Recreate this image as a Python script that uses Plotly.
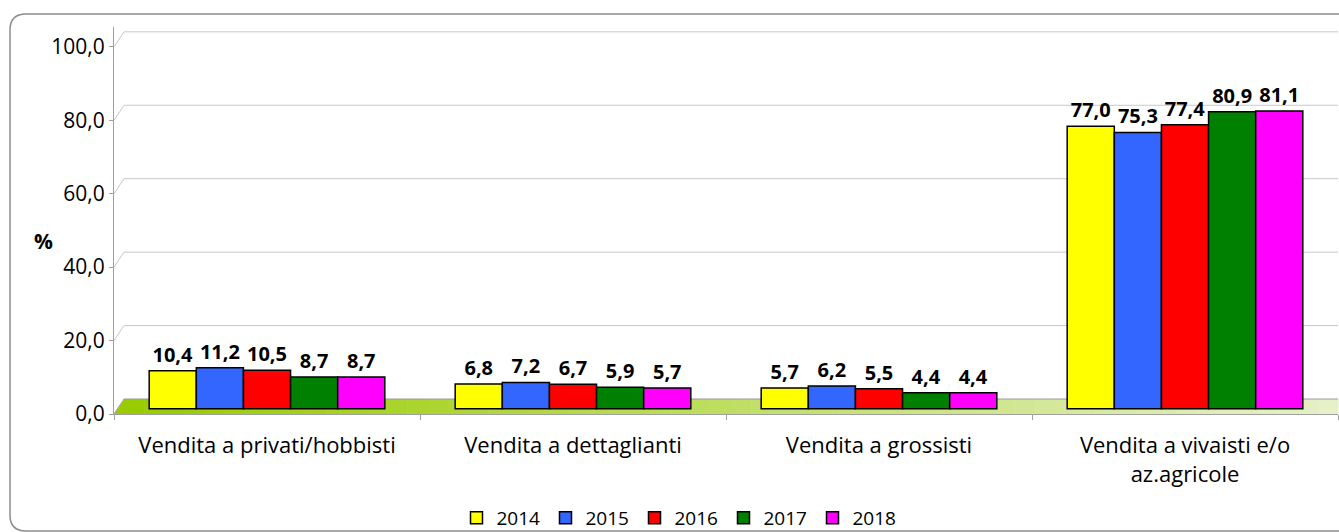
import plotly.graph_objects as go

categories = ["Vendita a privati/hobbisti", "Vendita a dettaglianti",
              "Vendita a grossisti", "Vendita a vivaisti e/o<br>az.agricole"]
years = ["2014", "2015", "2016", "2017", "2018"]
v2014 = [10.4, 6.8, 5.7, 77.0]
v2015 = [11.2, 7.2, 6.2, 75.3]
v2016 = [10.5, 6.7, 5.5, 77.4]
v2017 = [8.7, 5.9, 4.4, 80.9]
v2018 = [8.7, 5.7, 4.4, 81.1]
series = [v2014, v2015, v2016, v2017, v2018]
colors = ["#FFFF00", "#3366FF", "#FF0000", "#008000", "#FF00FF"]
y_ticks = [0, 20, 40, 60, 80, 100]

W, H = 1339, 532
L, R, T, B = 114, 1, 27, 118
PW, PH = W - L - R, H - T - B
YMAX = 105.4
PXU = PH / YMAX          # pixels per unit on tick axis
DEPTH_PX = 15            # 3D depth offset (back wall)
DEPTH_U = DEPTH_PX / PXU
BAR_SHIFT = 1.4          # bars sit mid-depth on the floor
BOTTOM = T + PH


def xp(px):
    return (px - L) / PW


def yp(py):
    return (BOTTOM - py) / PH


font = "Open Sans, Lato, sans-serif"
fig = go.Figure()
for name, vals, col in zip(years, series, colors):
    fig.add_trace(go.Bar(
        x=categories, y=vals, name=name,
        marker=dict(color=col, line=dict(color="#000000", width=1.5)),
        texttemplate="%{y:.1f}", textposition="outside",
        textfont=dict(family=font, size=20, color="#000000", weight="bold"),
        cliponaxis=False, yaxis="y",
    ))
# invisible trace carrying the tick axis
fig.add_trace(go.Scatter(x=[categories[0]], y=[0], yaxis="y2", mode="markers",
                         marker=dict(opacity=0), showlegend=False, hoverinfo="skip"))

shapes = []
# floor gradient
c0 = (153, 204, 0)
c1 = (230, 241, 200)
N = 60
x_start, x_end = 124, 1338
for i in range(N):
    a = x_start + (x_end - x_start) * i / N
    b = x_start + (x_end - x_start) * (i + 1) / N + 0.5
    t = i / (N - 1)
    c = tuple(int(c0[k] + (c1[k] - c0[k]) * t) for k in range(3))
    shapes.append(dict(type="rect", xref="paper", yref="y2", x0=xp(a), x1=xp(b),
                       y0=0, y1=DEPTH_U, fillcolor="rgb(%d,%d,%d)" % c,
                       line=dict(width=0), layer="below"))
shapes.append(dict(type="path", xref="paper", yref="paper",
                   path="M %f,%f L %f,%f L %f,%f Z" % (xp(114), yp(BOTTOM), xp(124.5), yp(BOTTOM - DEPTH_PX),
                                                       xp(124.5), yp(BOTTOM)),
                   fillcolor="rgb(153,204,0)", line=dict(width=0), layer="below"))
# floor top edge
shapes.append(dict(type="line", xref="paper", yref="y2", x0=xp(124), x1=xp(1338),
                   y0=DEPTH_U, y1=DEPTH_U, line=dict(color="#9a9a9a", width=1), layer="below"))
shapes.append(dict(type="line", xref="paper", yref="y2", x0=xp(114), x1=xp(124),
                   y0=0, y1=DEPTH_U, line=dict(color="#9a9a9a", width=1), layer="below"))
# back-wall gridlines with diagonal connectors
for v in y_ticks[1:]:
    shapes.append(dict(type="line", xref="paper", yref="y2", x0=xp(124), x1=1,
                       y0=v + DEPTH_U, y1=v + DEPTH_U, line=dict(color="#c8c8c8", width=1), layer="below"))
    shapes.append(dict(type="line", xref="paper", yref="y2", x0=0, x1=xp(124),
                       y0=v, y1=v + DEPTH_U, line=dict(color="#c8c8c8", width=1), layer="below"))
# outer rounded frame
shapes.append(dict(type="path", xref="paper", yref="paper",
                   path=("M %f,%f L %f,%f Q %f,%f %f,%f L %f,%f Q %f,%f %f,%f L %f,%f" % (
                       xp(1345), yp(14), xp(26), yp(14), xp(10), yp(14), xp(10), yp(30),
                       xp(10), yp(515), xp(10), yp(531), xp(26), yp(531), xp(1345), yp(531))),
                   line=dict(color="#8c8c8c", width=1.5), layer="below"))

fig.update_layout(
    width=W, height=H,
    margin=dict(l=L, r=R, t=T, b=B, autoexpand=False),
    paper_bgcolor="white", plot_bgcolor="rgba(0,0,0,0)",
    separators=",.",
    barmode="group", bargap=0.23, bargroupgap=0,
    font=dict(family=font, size=21, color="#000000"),
    showlegend=True,
    legend=dict(orientation="h", x=xp(679), xanchor="center", y=yp(518), yanchor="middle",
                font=dict(family=font, size=19), itemwidth=30, entrywidth=44,
                entrywidthmode="pixels", tracegroupgap=0,
                bgcolor="rgba(0,0,0,0)"),
    xaxis=dict(type="category", showgrid=False, showline=True, linecolor="#a0a0a0", linewidth=1,
               ticks="outside", ticklen=5, tickcolor="#a0a0a0", tickson="boundaries",
               tickfont=dict(family=font, size=22), zeroline=False, automargin=False,
               ticklabelstandoff=12),
    yaxis=dict(range=[-BAR_SHIFT, YMAX - BAR_SHIFT], visible=False, showgrid=False,
               zeroline=False, automargin=False),
    yaxis2=dict(range=[0, YMAX], overlaying="y", side="left", anchor="x",
                tickvals=y_ticks, tickformat=".1f", showgrid=False, zeroline=False,
                showline=True, linecolor="#a0a0a0", linewidth=1,
                ticks="outside", ticklen=4, tickcolor="#a0a0a0", automargin=False,
                tickfont=dict(family=font, size=21)),
    shapes=shapes,
    annotations=[dict(text="<b>%</b>", xref="paper", yref="paper", x=xp(32), y=yp(241),
                      showarrow=False, font=dict(family=font, size=21))],
)

fig.write_html("out.html", config={"displayModeBar": False},
               post_script="document.body.style.margin='0';")
